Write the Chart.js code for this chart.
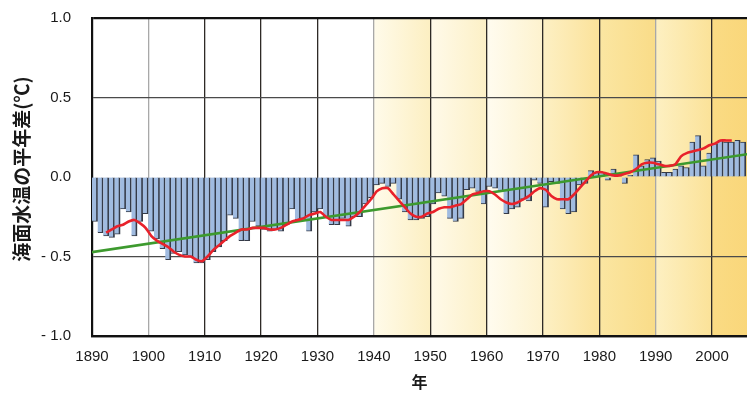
<!DOCTYPE html>
<html>
<head>
<meta charset="utf-8">
<script src="https://cdn.jsdelivr.net/npm/chart.js@4/dist/chart.umd.min.js"></script>
<style>
  html, body { margin: 0; padding: 0; background: #ffffff; }
  #wrap { width: 747px; height: 394px; position: relative; }
</style>
</head>
<body>
<div id="wrap"><canvas id="sst"></canvas></div>
<script>
// Annual sea surface temperature anomaly (°C), 1891-2006
const firstYear = 1891;
const anomalies = [
  -0.28, -0.35, -0.37, -0.38, -0.36, -0.20, -0.22, -0.37, -0.28, -0.23, // 1891-1900
  -0.34, -0.39, -0.45, -0.52, -0.48, -0.47, -0.49, -0.50, -0.54, -0.54, // 1901-1910
  -0.52, -0.47, -0.44, -0.40, -0.24, -0.26, -0.40, -0.40, -0.28, -0.31, // 1911-1920
  -0.33, -0.34, -0.33, -0.34, -0.30, -0.20, -0.27, -0.26, -0.34, -0.22, // 1921-1930
  -0.20, -0.25, -0.30, -0.30, -0.26, -0.31, -0.25, -0.25, -0.17, -0.13, // 1931-1940
  -0.05, -0.04, -0.06, -0.04, -0.14, -0.22, -0.27, -0.27, -0.26, -0.25, // 1941-1950
  -0.17, -0.10, -0.12, -0.26, -0.28, -0.26, -0.08, -0.07, -0.09, -0.17, // 1951-1960
  -0.06, -0.07, -0.09, -0.23, -0.20, -0.19, -0.14, -0.15, -0.02, -0.04, // 1961-1970
  -0.19, -0.03, -0.04, -0.20, -0.23, -0.22, -0.05, -0.04,  0.04,  0.03, // 1971-1980
   0.03, -0.02,  0.05,  0.02, -0.04,  0.01,  0.14,  0.07,  0.11,  0.12, // 1981-1990
   0.10,  0.03,  0.03,  0.05,  0.07,  0.06,  0.22,  0.26,  0.07,  0.15, // 1991-2000
   0.21,  0.23,  0.22,  0.22,  0.23,  0.22                              // 2001-2006
];

// Five-year running mean (red curve), 1893-2004
const meanFirstYear = 1893;
const runningMean = [
  -0.35, -0.33, -0.31, -0.30, -0.28, -0.27, -0.29, -0.32,               // 1893-1900
  -0.37, -0.40, -0.42, -0.44, -0.47, -0.49, -0.50, -0.50, -0.52, -0.53, // 1901-1910
  -0.50, -0.46, -0.43, -0.40, -0.37, -0.35, -0.33, -0.33, -0.32, -0.32, // 1911-1920
  -0.32, -0.33, -0.33, -0.32, -0.30, -0.28, -0.27, -0.26, -0.24, -0.23, // 1921-1930
  -0.22, -0.25, -0.27, -0.27, -0.27, -0.27, -0.25, -0.22, -0.18, -0.14, // 1931-1940
  -0.09, -0.07, -0.07, -0.11, -0.15, -0.19, -0.23, -0.25, -0.25, -0.23, // 1941-1950
  -0.22, -0.20, -0.19, -0.19, -0.18, -0.17, -0.14, -0.11, -0.10, -0.09, // 1951-1960
  -0.09, -0.11, -0.14, -0.16, -0.17, -0.16, -0.14, -0.12, -0.09, -0.07, // 1961-1970
  -0.08, -0.12, -0.14, -0.14, -0.14, -0.11, -0.07, -0.03,  0.01,  0.03, // 1971-1980
   0.03,  0.02,  0.01,  0.01,  0.02,  0.03,  0.05,  0.08,  0.09,  0.09, // 1981-1990
   0.08,  0.07,  0.07,  0.08,  0.13,  0.15,  0.16,  0.17,  0.18,  0.20, // 1991-2000
   0.21,  0.23,  0.23,  0.23                                            // 2001-2004
];

// Linear trend (green line) end points
const trendYears = [1890, 2007];
const trendValues = [-0.475, 0.145];

// Axis ticks and titles
const xTickYears = [1890, 1900, 1910, 1920, 1930, 1940, 1950, 1960, 1970, 1980, 1990, 2000];
const yTickValues = [-1.0, -0.5, 0.0, 0.5, 1.0];
const yTickLabels = ['- 1.0', '- 0.5', '0.0', '0.5', '1.0'];
const xTitle = '年';
const yTitle = '海面水温の平年差(℃)';

// Decades with a shaded background and their left/right tints
const bandStarts = [1940, 1950, 1960, 1970, 1980, 1990, 2000];
const bandTints = [
  ['#fffbea', '#fcefc2'],
  ['#fffaea', '#fcf0c6'],
  ['#fffcf0', '#fdf2ce'],
  ['#fdf0c4', '#fbe29a'],
  ['#fbe6a2', '#f9dc88'],
  ['#fdf0c2', '#fbe298'],
  ['#fadb84', '#f9d474']
];
const lightGridYears = [1900, 1940, 1990];

// Bars and curves sit in the middle of each year's slot
const barPoints = anomalies.map((v, i) => ({ x: firstYear + i - 0.5, y: v }));
const meanPoints = runningMean.map((v, i) => ({ x: meanFirstYear + i - 0.5, y: v }));
const trendPoints = trendValues.map((v, i) => ({ x: trendYears[i] - 0.5, y: v }));

const X_MAX = 2006.2;

const fontFamily = "'Liberation Sans', Arial, Helvetica, sans-serif";
const cjkFamily = "'Noto Sans CJK JP', 'Noto Sans CJK SC', sans-serif";

// Tinted decade bands behind the plot
const bandPlugin = {
  id: 'decadeBands',
  beforeDraw(chart) {
    const { ctx, chartArea, scales } = chart;
    const xs = scales.x;
    ctx.save();
    ctx.beginPath();
    ctx.rect(chartArea.left, chartArea.top, chartArea.width, chartArea.height);
    ctx.clip();
    bandStarts.forEach((start, i) => {
      const end = i + 1 < bandStarts.length ? bandStarts[i + 1] : start + 10;
      const x0 = xs.getPixelForValue(start);
      const x1 = xs.getPixelForValue(end);
      const g = ctx.createLinearGradient(x0, 0, x1, 0);
      g.addColorStop(0, bandTints[i][0]);
      g.addColorStop(1, bandTints[i][1]);
      ctx.fillStyle = g;
      ctx.fillRect(x0, chartArea.top, x1 - x0, chartArea.height);
    });
    ctx.restore();
  }
};

// Vertical title of the value axis, set slightly above the plot's middle
const yTitlePlugin = {
  id: 'yTitle',
  afterDraw(chart) {
    const { ctx, chartArea } = chart;
    ctx.save();
    ctx.translate(22, (chartArea.top + chartArea.bottom) / 2 - 8);
    ctx.rotate(-Math.PI / 2);
    ctx.font = `bold 19px ${cjkFamily}`;
    ctx.fillStyle = '#1a1a1a';
    ctx.textAlign = 'center';
    ctx.textBaseline = 'middle';
    ctx.fillText(yTitle, 0, 0);
    ctx.restore();
  }
};

new Chart(document.getElementById('sst'), {
  data: {
    datasets: [
      {
        type: 'line',
        label: 'trend',
        data: trendPoints,
        borderColor: '#3d9a2e',
        borderWidth: 2.6,
        pointRadius: 0,
        order: 1
      },
      {
        type: 'line',
        label: 'running mean',
        data: meanPoints,
        borderColor: '#e8222b',
        borderWidth: 2.6,
        pointRadius: 0,
        tension: 0.15,
        order: 0
      },
      {
        type: 'bar',
        label: 'anomaly',
        data: barPoints,
        backgroundColor: '#a0bbe0',
        borderColor: '#353b48',
        borderWidth: { top: 1, bottom: 1, left: 0, right: 1.8 },
        borderSkipped: 'start',
        barPercentage: 1.0,
        categoryPercentage: 1.0,
        order: 2
      }
    ]
  },
  plugins: [bandPlugin, yTitlePlugin],
  options: {
    responsive: true,
    maintainAspectRatio: false,
    animation: false,
    layout: { autoPadding: false, padding: { top: 18, left: 0, right: 0, bottom: 0 } },
    plugins: {
      legend: { display: false },
      title: { display: false },
      tooltip: { enabled: false }
    },
    scales: {
      x: {
        type: 'linear',
        offset: false,
        min: 1890,
        max: X_MAX,
        afterBuildTicks(scale) {
          scale.ticks = xTickYears.map(v => ({ value: v }));
        },
        afterFit(scale) {
          scale.height = 58;
          scale.paddingTop = 0;
          scale.paddingBottom = 0;
        },
        ticks: {
          autoSkip: false,
          maxRotation: 0,
          minRotation: 0,
          padding: 12,
          color: '#1a1a1a',
          font: { family: fontFamily, size: 15 },
          callback: v => String(v)
        },
        grid: {
          offset: false,
          drawTicks: false,
          lineWidth: 1.3,
          color: ctx => (ctx.tick && lightGridYears.includes(ctx.tick.value)) ? '#a8a8a8' : '#2e2a26'
        },
        border: { display: true, color: '#111111', width: 2.2 },
        title: {
          display: true,
          text: xTitle,
          color: '#1a1a1a',
          font: { family: cjkFamily, size: 16, weight: 'bold' },
          padding: { top: 0, bottom: 2 }
        }
      },
      y: {
        type: 'linear',
        min: -1,
        max: 1,
        afterBuildTicks(scale) {
          scale.ticks = yTickValues.map(v => ({ value: v }));
        },
        afterFit(scale) {
          scale.width = 92;
          scale.paddingTop = 0;
          scale.paddingBottom = 0;
        },
        ticks: {
          padding: 21,
          color: '#1a1a1a',
          font: { family: fontFamily, size: 15 },
          callback: v => yTickLabels[yTickValues.indexOf(v)]
        },
        grid: {
          drawTicks: false,
          lineWidth: ctx => (ctx.tick && Math.abs(ctx.tick.value) === 1) ? 2.2 : 1.2,
          color: ctx => {
            if (!ctx.tick) return 'rgba(0,0,0,0)';
            const v = ctx.tick.value;
            if (v === 0) return 'rgba(0,0,0,0)';
            if (Math.abs(v) === 1) return '#111111';
            return '#4a4a4a';
          }
        },
        border: { display: true, color: '#111111', width: 2.2 },
        title: { display: false }
      }
    }
  }
});
</script>
</body>
</html>
